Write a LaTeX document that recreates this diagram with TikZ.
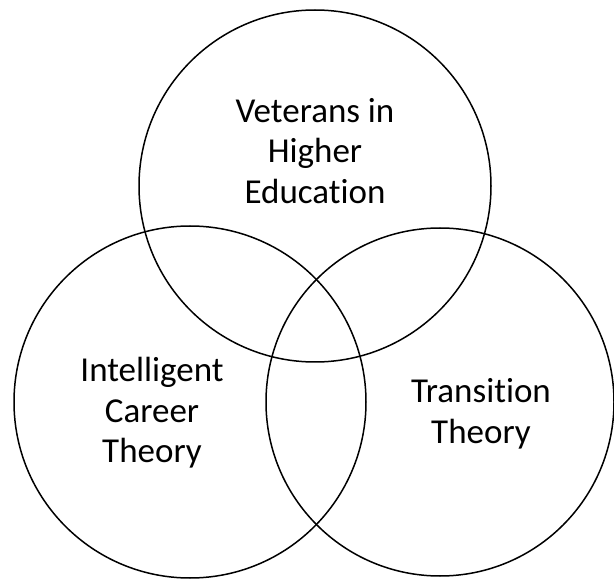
\documentclass[tikz,border=0pt]{standalone}
\usepackage{fontspec}
\setmainfont{Carlito}[Ligatures=NoCommon]
\tikzset{
	ring/.style={draw, circle, line width=1.5pt, inner sep=0pt},
	label/.style={align=center, font=\fontsize{35}{40.5}\selectfont}
}
\begin{document}
\begin{tikzpicture}[x=1pt, y=-1pt]
	\useasboundingbox (0,0) rectangle (614,580);
	\node[ring, minimum size=352pt] (top) at (315,186) {};
	\node[ring, minimum size=352pt] (left) at (190,402) {};
	\node[ring, minimum size=348pt] (right) at (440,402) {};
	
	\node[label] (vet) at (315,151) {Veterans in\\Higher\\Education};
	\node[label] (career) at (152,413) {Intelligent\\Career\\Theory};
	\node[label] (trans) at (481,414) {Transition\\Theory};
\end{tikzpicture}
\end{document}
